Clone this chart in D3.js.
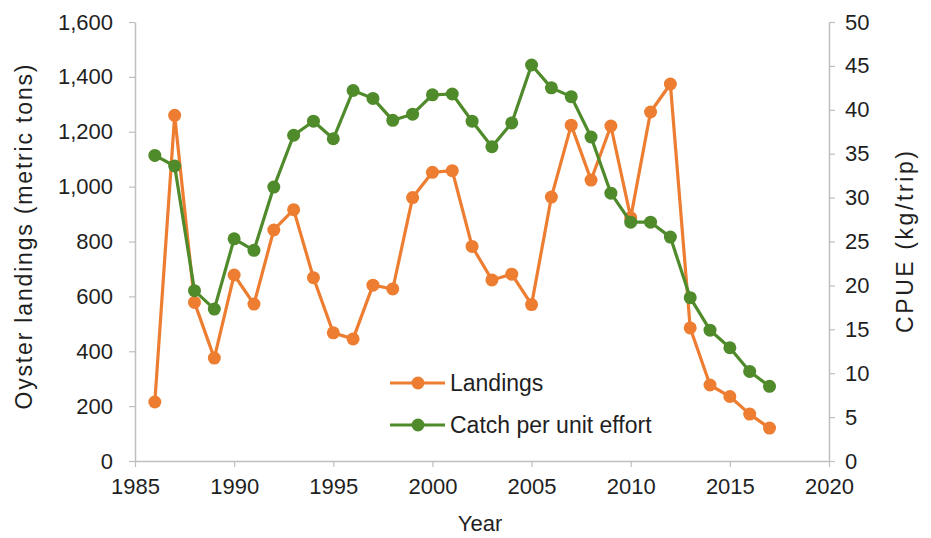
<!DOCTYPE html>
<html>
<head>
<meta charset="utf-8">
<script src="https://cdn.jsdelivr.net/npm/d3@7"></script>
<style>
  html, body { margin: 0; padding: 0; background: #fff; }
  svg { display: block; font-family: "Liberation Sans", Arial, sans-serif; }
</style>
</head>
<body>
<svg id="chart" width="931" height="538"></svg>
<script>
const years = [1986,1987,1988,1989,1990,1991,1992,1993,1994,1995,1996,1997,1998,1999,2000,2001,2002,2003,2004,2005,2006,2007,2008,2009,2010,2011,2012,2013,2014,2015,2016,2017];
const landings = [215,1260,578,375,678,572,842,916,668,467,445,641,627,960,1052,1058,782,660,681,570,962,1224,1024,1221,887,1272,1374,485,277,235,171,120];
const cpue = [34.8,33.6,19.4,17.3,25.3,24.0,31.2,37.1,38.7,36.7,42.2,41.3,38.8,39.5,41.7,41.8,38.7,35.8,38.5,45.1,42.5,41.5,36.9,30.5,27.2,27.2,25.5,18.6,14.9,12.9,10.2,8.5];
const xTicks = [1985,1990,1995,2000,2005,2010,2015,2020];
const yLeftTicks = [0,200,400,600,800,1000,1200,1400,1600];
const yRightTicks = [0,5,10,15,20,25,30,35,40,45,50];
const seriesNames = ["Landings", "Catch per unit effort"];
const colors = ["#ED7D31", "#4F8A2B"];

(function () {
const svg = d3.select("#chart");
const mLeft = 135, mRight = 829, mTop = 22, mBottom = 461;
const axisColor = "#bfbfbf", textColor = "#1f1f1f";

const x = d3.scaleLinear().domain([1985, 2020]).range([mLeft, mRight]);
const yL = d3.scaleLinear().domain([0, 1600]).range([mBottom, mTop]);
const yR = d3.scaleLinear().domain([0, 50]).range([mBottom, mTop]);

function styleAxis(g) {
  g.selectAll("path.domain").attr("stroke", axisColor).attr("stroke-width", 1.5);
  g.selectAll(".tick line").attr("stroke", axisColor).attr("stroke-width", 1.2);
  g.selectAll(".tick text").attr("fill", textColor).style("font-size", "22px")
    .style("font-family", "'Liberation Sans', Arial, sans-serif");
}

const gx = svg.append("g").attr("transform", `translate(0,${mBottom})`)
  .call(d3.axisBottom(x).tickValues(xTicks).tickFormat(d3.format("d")).tickSize(6).tickSizeOuter(0).tickPadding(11));
styleAxis(gx);

const gl = svg.append("g").attr("transform", `translate(${mLeft},0)`)
  .call(d3.axisLeft(yL).tickValues(yLeftTicks).tickFormat(d3.format(",")).tickSize(6).tickSizeOuter(0).tickPadding(16));
styleAxis(gl);

const gr = svg.append("g").attr("transform", `translate(${mRight},0)`)
  .call(d3.axisRight(yR).tickValues(yRightTicks).tickFormat(d3.format("d")).tickSize(6).tickSizeOuter(0).tickPadding(10));
styleAxis(gr);

svg.append("text").attr("transform", `translate(32,237) rotate(-90)`)
  .attr("text-anchor", "middle").attr("fill", textColor).style("font-size", "23px")
  .attr("textLength", 345).attr("lengthAdjust", "spacing")
  .text("Oyster landings  (metric tons)");
svg.append("text").attr("transform", `translate(913,242) rotate(-90)`)
  .attr("text-anchor", "middle").attr("fill", textColor).style("font-size", "23px")
  .attr("textLength", 182).attr("lengthAdjust", "spacing")
  .text("CPUE  (kg/trip)");
svg.append("text").attr("x", 480).attr("y", 531)
  .attr("text-anchor", "middle").attr("fill", textColor).style("font-size", "22px")
  .text("Year");

const dataL = years.map((yr, i) => ({x: yr, y: landings[i]}));
const dataC = years.map((yr, i) => ({x: yr, y: cpue[i]}));

function drawSeries(data, yScale, color) {
  const line = d3.line().x(d => x(d.x)).y(d => yScale(d.y));
  svg.append("path").datum(data).attr("d", line)
    .attr("fill", "none").attr("stroke", color).attr("stroke-width", 3.2).attr("stroke-linejoin", "round");
  svg.append("g").selectAll("circle").data(data).join("circle")
    .attr("cx", d => x(d.x)).attr("cy", d => yScale(d.y)).attr("r", 6.5).attr("fill", color);
}
drawSeries(dataL, yL, colors[0]);
drawSeries(dataC, yR, colors[1]);

const legend = svg.append("g");
seriesNames.forEach((name, i) => {
  const ly = 383 + i * 42;
  legend.append("line").attr("x1", 390).attr("x2", 445).attr("y1", ly).attr("y2", ly)
    .attr("stroke", colors[i]).attr("stroke-width", 3.2);
  legend.append("circle").attr("cx", 418).attr("cy", ly).attr("r", 6.5).attr("fill", colors[i]);
  legend.append("text").attr("x", 450).attr("y", ly + 8).attr("fill", textColor)
    .style("font-size", "23px").text(name);
});
})();
</script>
</body>
</html>
